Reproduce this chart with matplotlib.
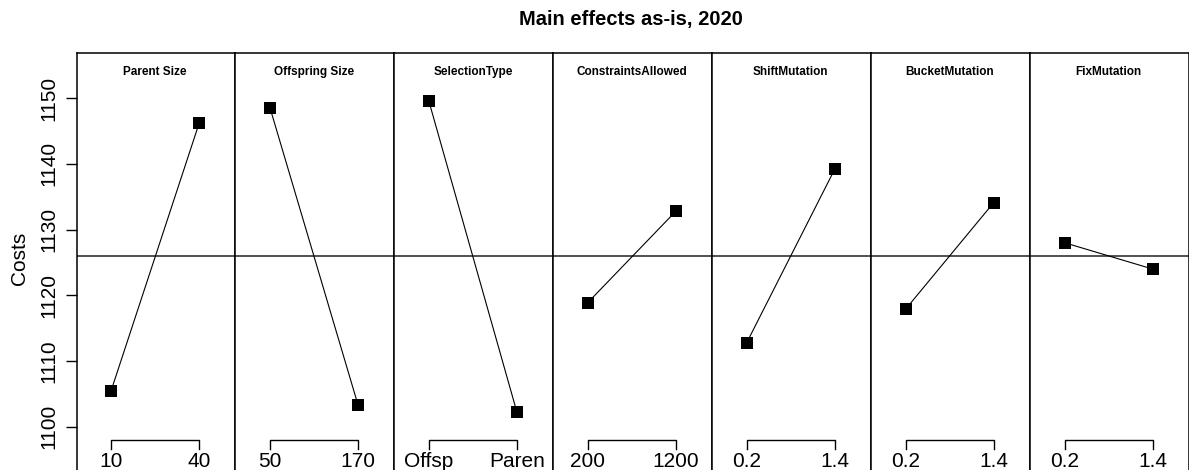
import matplotlib
matplotlib.use("Agg")
import matplotlib.pyplot as plt
import numpy as np

plt.rcParams['font.family'] = ['Liberation Sans', 'DejaVu Sans']

# factor names, their two levels, and the mean cost at each level
factors = ['Parent Size', 'Offspring Size', 'SelectionType', 'ConstraintsAllowed',
           'ShiftMutation', 'BucketMutation', 'FixMutation']
levels = [['10', '40'], ['50', '170'], ['Offsp', 'Paren'], ['200', '1200'],
          ['0.2', '1.4'], ['0.2', '1.4'], ['0.2', '1.4']]
low_means = [1105.5, 1148.5, 1149.5, 1118.9, 1112.8, 1117.9, 1128.0]
high_means = [1146.2, 1103.3, 1102.2, 1132.8, 1139.2, 1134.1, 1124.0]
yticks = [1100, 1110, 1120, 1130, 1140, 1150]

grand_mean = np.mean(low_means + high_means)

W, H = 1189, 470
fig = plt.figure(figsize=(W / 100, H / 100), dpi=100)

# panel geometry in pixels
left_px, top_px, bottom_px = 76.5, 53, 490
panel_w = 158.9
ylim = (1100 - (bottom_px - 426.7) / 6.57, 1100 + (426.7 - top_px) / 6.57)

axes = []
for i, name in enumerate(factors):
    x0 = (left_px + i * panel_w) / W
    ax = fig.add_axes([x0, 1 - bottom_px / H, panel_w / W, (bottom_px - top_px) / H])
    ax.set_xlim(0.606, 2.412)
    ax.set_ylim(*ylim)
    for s in ax.spines.values():
        s.set_linewidth(1.1)

    ax.axhline(grand_mean, color='#222222', lw=1.1)
    ax.plot([1, 2], [low_means[i], high_means[i]], color='black', lw=0.8,
            marker='s', markersize=8, markeredgewidth=0)

    ax.text(1.5, 1154.0, name, ha='center', va='center', fontsize=8.5,
            fontweight='bold')

    # level bracket and labels under each panel
    ax.plot([1, 1, 2, 2], [1096.6, 1097.98, 1097.98, 1096.6], color='black', lw=1.0)
    for x, lab in zip([1, 2], levels[i]):
        ax.text(x, 1093.87, lab, ha='center', va='baseline', fontsize=15)

    ax.set_xticks([])
    if i == 0:
        ax.set_yticks(yticks)
        ax.set_yticklabels([str(t) for t in yticks], rotation=90, va='center',
                           fontsize=15)
        ax.tick_params(axis='y', length=8, width=1.0, pad=5)
    else:
        ax.set_yticks([])
    axes.append(ax)

fig.text(20 / W, 1 - 258 / H, 'Costs', rotation=90, ha='center', va='center',
         fontsize=15)
fig.text(631 / W, 1 - 20 / H, 'Main effects as-is, 2020', ha='center',
         va='center', fontsize=14.5, fontweight='bold')

fig.savefig('out.png', dpi=100)
